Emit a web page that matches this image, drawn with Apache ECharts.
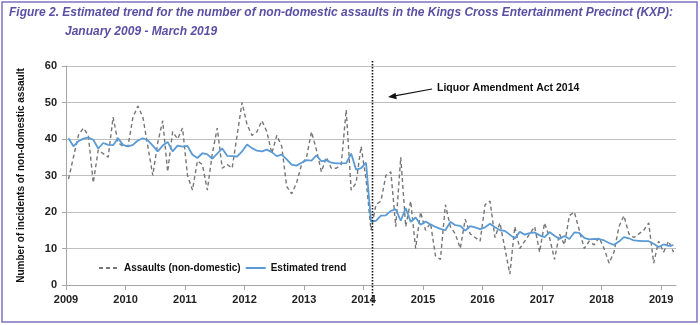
<!DOCTYPE html>
<html><head><meta charset="utf-8">
<script src="https://cdn.jsdelivr.net/npm/echarts@6/dist/echarts.min.js"></script>
<style>html,body{margin:0;padding:0;background:#fff}#c{width:700px;height:325px}</style>
</head><body><div id="c"></div>
<script>
// Monthly series, January 2009 (index 0) to March 2019 (index 122)
const startYear = 2009;
const yearTickMonths = [0, 12, 24, 36, 48, 60, 72, 84, 96, 108, 120];
const yearLabels = ['2009','2010','2011','2012','2013','2014','2015','2016','2017','2018','2019'];
const yTicks = [0, 10, 20, 30, 40, 50, 60];
const legendNames = ['Assaults (non-domestic)', 'Estimated trend'];
const assaults = [
  29,35,41,43,41,28,37,36,35,46,39,38,
  38,46,49,46,38,30,39,45,31,42,40,43,
  30,26,34,33,26,36,43,32,33,32,41,50,
  44,41,42,45,42,36,41,38,27,25,28,33,
  35,42,37,31,35,32,32,33,48,26,28,38,
  29,15,22,23,30,31,16,35,16,23,10,20,
  15,17,8,7,22,16,14,10,18,14,13,12,
  22,23,13,17,10,3,16,10,12,14,16,9,
  17,13,7,14,11,19,20,15,10,12,11,13,
  10,6,9,16,19,14,13,14,15,17,6,12,
  9,12,9
];
const trend = [
  40.2,38.0,39.4,40.1,40.4,39.8,37.4,38.9,38.4,38.3,40.2,38.4,
  38.0,38.4,39.6,40.2,39.6,38.2,36.6,38.2,39.2,36.6,38.2,37.9,
  38.1,35.7,34.8,36.1,35.8,34.6,36.0,37.4,35.4,35.3,35.2,36.6,
  38.5,37.5,36.8,36.6,37.1,36.4,35.3,35.7,34.4,33.0,32.7,33.5,
  34.2,34.1,35.5,33.9,34.2,33.5,33.3,33.3,33.4,36.0,31.6,32.0,
  33.5,17.4,17.6,19.0,19.1,20.3,20.7,17.6,21.1,17.3,18.5,16.5,
  17.4,16.6,15.9,15.4,15.0,17.3,16.4,16.2,14.9,16.1,15.8,15.3,
  15.8,16.8,15.8,15.0,14.8,13.8,12.7,14.6,13.8,14.2,14.4,13.6,
  13.1,14.5,13.5,12.6,13.4,12.6,14.4,14.3,12.9,12.5,12.6,12.6,
  12.2,11.5,11.0,11.9,13.1,12.8,12.2,12.1,12.0,12.0,11.3,10.4,
  11.1,10.7,10.9
];
const actMonth = 61.8; // Liquor Amendment Act line (Feb 2014)
const actLabel = 'Liquor Amendment Act 2014';
const titleLine1 = 'Figure 2. Estimated trend for the number of non-domestic assaults in the Kings Cross Entertainment Precinct (KXP):';
const titleLine2 = 'January 2009 - March 2019';

const toPts = arr => arr.map((v, i) => [i + 0.5, v]);
const chart = echarts.init(document.getElementById('c'), null, {renderer: 'canvas'});
const sans = "'Liberation Sans', Arial, sans-serif";
const titleStyle = {fontFamily: sans, fontSize: 12, fontWeight: 'bold', fontStyle: 'italic', color: '#5a4fa3'};
chart.setOption({
  animation: false,
  backgroundColor: '#fff',
  title: [
    {text: titleLine1, left: 9, top: 7, padding: 0, textStyle: titleStyle},
    {text: titleLine2, left: 65, top: 26, padding: 0, textStyle: titleStyle}
  ],
  grid: {left: 66, right: 24, top: 66, bottom: 40, containLabel: false},
  legend: {
    left: 93, top: 258, itemWidth: 20, itemHeight: 10, itemGap: 4,
    data: legendNames,
    itemStyle: {color: 'rgba(0,0,0,0)', borderWidth: 0},
    textStyle: {fontFamily: sans, fontSize: 10, fontWeight: 'bold', color: '#111'}
  },
  xAxis: {
    type: 'value', min: 0, max: 123,
    axisLine: {show: true, lineStyle: {color: '#a6a6a6', width: 1}},
    axisTick: {show: true, length: 5, customValues: yearTickMonths, lineStyle: {color: '#a6a6a6'}},
    axisLabel: {customValues: yearTickMonths, formatter: v => yearLabels[yearTickMonths.indexOf(Math.round(v))] || '', fontFamily: sans, fontSize: 11, fontWeight: 'bold', color: '#222', margin: 9},
    splitLine: {show: false}
  },
  yAxis: {
    type: 'value', min: 0, max: 60, interval: 10,
    name: 'Number of incidents of non-domestic assault',
    nameLocation: 'middle', nameGap: 40,
    nameTextStyle: {fontFamily: sans, fontSize: 10, fontWeight: 'bold', color: '#111'},
    axisLine: {show: true, lineStyle: {color: '#a6a6a6', width: 1}},
    axisTick: {show: true, length: 4, lineStyle: {color: '#a6a6a6'}},
    axisLabel: {fontFamily: sans, fontSize: 11, fontWeight: 'bold', color: '#222', margin: 9},
    splitLine: {show: true, lineStyle: {color: '#bfbfbf', width: 1}}
  },
  series: [
    {name: legendNames[0], type: 'line', data: toPts(assaults), symbol: 'none', z: 2,
     lineStyle: {color: '#767676', width: 1.4, type: [4, 3]}, itemStyle: {color: '#767676'}},
    {name: legendNames[1], type: 'line', data: toPts(trend), symbol: 'none', z: 3,
     lineStyle: {color: '#5b9bd5', width: 1.8}, itemStyle: {color: '#5b9bd5'}}
  ]
});

const pTop = chart.convertToPixel({gridIndex: 0}, [actMonth, 60]);
const pBot = chart.convertToPixel({gridIndex: 0}, [actMonth, 0]);
chart.setOption({
  graphic: [
    {type: 'rect', shape: {x: 2, y: 2, width: 695, height: 320}, style: {fill: 'none', stroke: '#7d73c0', lineWidth: 1.5}, silent: true},
    {type: 'line', shape: {x1: pTop[0], y1: pTop[1] - 5, x2: pBot[0], y2: pBot[1] + 22}, style: {stroke: '#111', lineWidth: 1.6, lineDash: [1.5, 1.5]}, z: 10},
    {type: 'line', shape: {x1: 432, y1: 89, x2: 392, y2: 96.3}, style: {stroke: '#111', lineWidth: 1.2}, z: 10},
    {type: 'polygon', shape: {points: [[388, 97], [395.5, 92.8], [396.8, 99.3]]}, style: {fill: '#111'}, z: 10},
    {type: 'text', left: 437, top: 83, style: {text: actLabel, font: "bold 10.5px 'Liberation Sans', Arial, sans-serif", fill: '#111'}, z: 10}
  ]
});
</script></body></html>
